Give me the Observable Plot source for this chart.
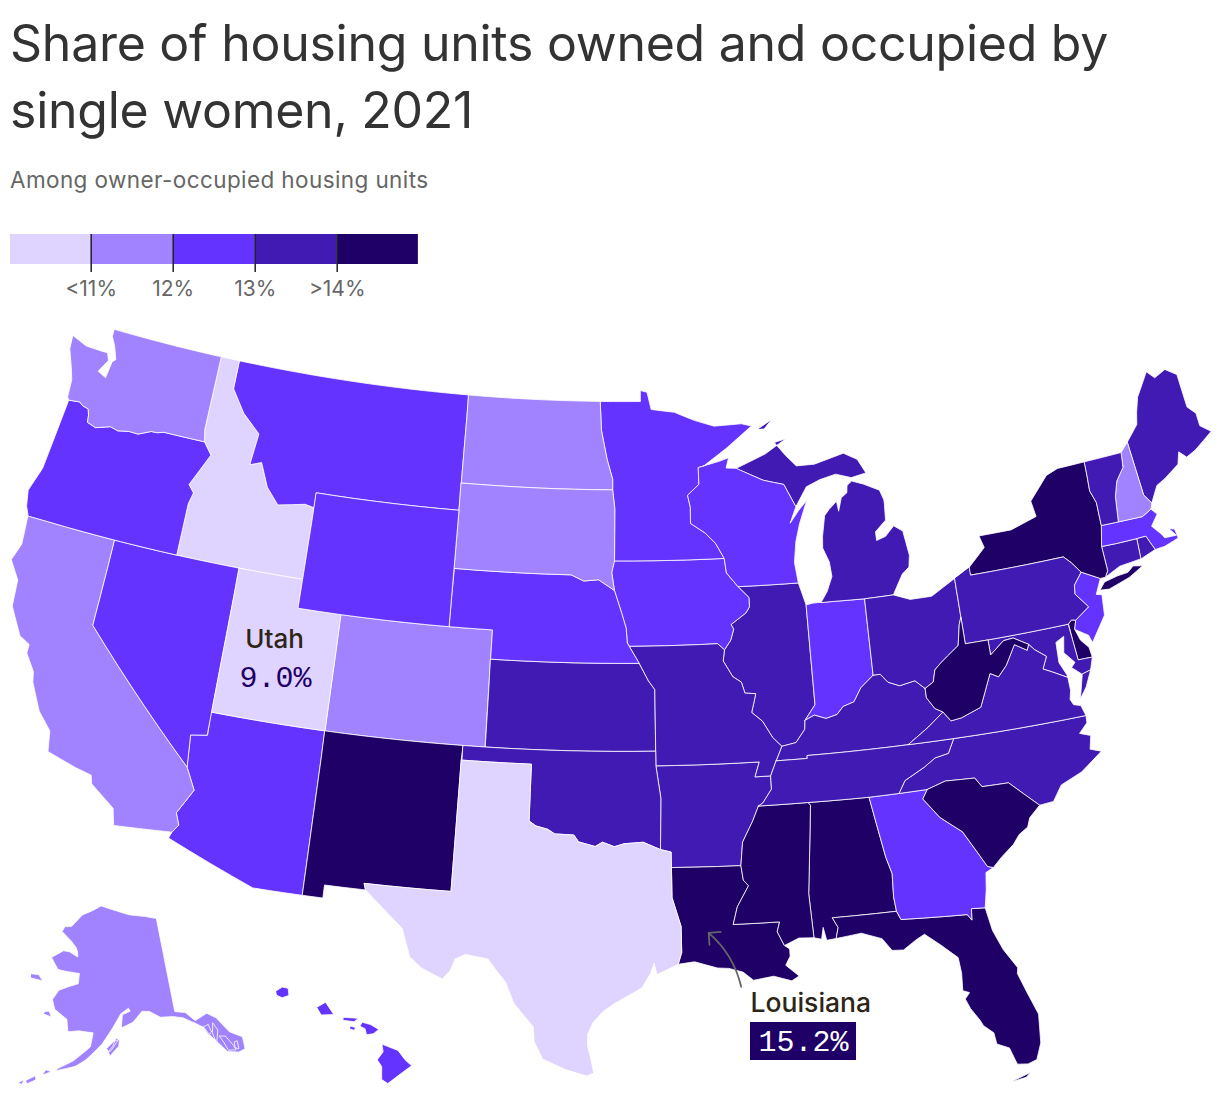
<!DOCTYPE html>
<html><head><meta charset="utf-8">
<script src="https://cdn.jsdelivr.net/npm/d3@7"></script>
<script src="https://cdn.jsdelivr.net/npm/@observablehq/plot@0.6"></script>
<style>
html,body{margin:0;padding:0;background:#fff;width:1220px;height:1094px;overflow:hidden}
#title{position:absolute;left:10px;top:10px;width:1200px;font:400 50px/67px Inter,sans-serif;letter-spacing:-.26px;color:#333;margin:0}
#sub{position:absolute;left:10px;top:166px;font:400 22.5px/28px Inter,sans-serif;letter-spacing:.4px;color:#666}
#legend{position:absolute;left:0;top:234px}
#map{position:absolute;left:0;top:310px}
svg{display:block;overflow:visible}
</style></head><body>
<h1 id="title">Share of housing units owned and occupied by single women, 2021</h1>
<div id="sub">Among owner-occupied housing units</div>
<div id="legend"></div><div id="map"></div>
<script>
// ---- chart values ----
const thresholds = [11, 12, 13, 14];
const tickLabels = ["<11%", "12%", "13%", ">14%"];
const palette = ["#dfd3ff", "#a183ff", "#6533ff", "#4119b3", "#1f0066"];
const legendStarts = [10, 11, 12, 13, 14];
const stateNames = ["AL","AK","AZ","AR","CA","CO","CT","DE","FL","GA","HI","ID","IL","IN","IA","KS","KY","LA","ME","MD","MA","MI","MN","MS","MO","MT","NE","NV","NH","NJ","NM","NY","NC","ND","OH","OK","OR","PA","RI","SC","SD","TN","TX","UT","VT","VA","WA","WV","WI","WY"];
const stateValues = [14.5,11.6,12.5,13.6,11.5,11.6,13.5,14.6,14.4,12.9,12.4,10.2,13.4,12.8,12.3,13.2,13.5,15.2,13.5,13.7,12.7,13.5,12.3,15.0,13.4,12.4,12.5,12.6,11.5,12.8,14.8,14.2,13.6,11.6,13.7,13.5,12.7,13.6,13.7,14.7,11.7,13.5,10.6,9.0,13.3,13.3,11.8,14.6,12.6,12.4];

// ---- shared borders, lon lat ----
const WI_MN="-92.01 46.71,-92.29 46.66,-92.29 46.08,-92.87 45.72,-92.75 45.3,-92.77 44.75,-92.08 44.4,-91.6 44.03,-91.22 43.5";
const WI_IA="-91.22 43.5,-91.15 43,-90.64 42.51";
const IA_IL="-90.64 42.51,-90.16 42.12,-90.16 41.8,-90.34 41.6,-91.06 41.23,-90.95 41.07,-91.11 40.7,-91.42 40.38";
const MO_IL="-91.42 40.38,-91.5 40,-91.1 39.45,-90.73 39.25,-90.6 38.87,-90.12 38.83,-90.2 38.6,-90.35 38.2,-89.9 37.88,-89.5 37.3,-89.13 36.98";
const MO_KY="-89.13 36.98,-89.42 36.5";
const MO_TN="-89.42 36.5,-89.7 36";
const AR_TN="-89.7 36,-89.7 35.55,-90.1 35.1,-90.3 35";
const AR_MS="-90.3 35,-90.58 34.5,-91.05 33.8,-91.17 33";
const LA_MS="-91.17 33,-91.1 32.5,-90.9 32.3,-91.4 31.6,-91.6 31,-89.73 31,-89.85 30.67,-89.6 30.18";
const IL_KY="-89.13 36.98,-88.5 37.07,-88.07 37.5,-88.03 37.8";
const IN_KY="-88.03 37.8,-87.6 37.95,-87.1 37.8,-86.6 37.9,-86.3 38.15,-85.8 38.27,-85.43 38.72,-84.82 39.1";
const OH_KY="-84.82 39.1,-84.5 39.1,-84.2 38.8,-83.7 38.63,-83 38.73,-82.6 38.42";
const OH_WV="-82.6 38.42,-82.2 38.6,-82.05 39,-81.75 39.2,-81.4 39.4,-80.85 39.7,-80.65 40.4,-80.52 40.64";
const KY_WV="-82.6 38.42,-82.6 38.1,-82.3 37.7,-81.97 37.54";
const KY_VA="-83.67 36.6,-82.7 37.1,-81.97 37.54";
const KY_TN="-83.67 36.6,-88.07 36.6,-88.07 36.5,-89.42 36.5";
const TN_VA="-83.67 36.6,-81.68 36.59";
const TN_NC="-81.68 36.59,-82 36.12,-82.6 36.03,-83.1 35.77,-84 35.4,-84.32 34.99";
const TN_S="-84.32 34.99,-85.6 34.98,-88.2 35,-90.3 35";
const NC_VA="-81.68 36.59,-75.87 36.55";
const NC_GA="-84.32 34.99,-83.11 35";
const NC_SC="-83.11 35,-82.3 35.2,-81.05 35.15,-80.8 34.82,-79.67 34.8,-78.55 33.86";
const GA_SC="-83.11 35,-83.35 34.7,-82.75 34,-81.9 33.4,-81.4 32.6,-81.1 32.1,-80.87 32.03";
const GA_AL="-85.6 34.98,-85.18 32.87,-85 32.3,-85.05 31.5,-85 31";
const GA_FL="-85 31,-84.86 30.7,-82.2 30.57,-82.05 30.36,-82 30.75,-81.45 30.71";
const AL_FL="-85 31,-87.6 31,-87.4 30.65,-87.52 30.28";
const AL_MS="-88.2 35,-88.1 34.9,-88.47 31.9,-88.4 30.37";
const VA_WV="-81.97 37.54,-81.68 37.2,-81.2 37.25,-80.3 37.5,-80 38,-79.65 38.58,-79.3 38.42,-78.87 38.76,-78.35 39.4,-77.83 39.13,-77.72 39.32";
const MD_WV="-77.72 39.32,-78.35 39.63,-78.8 39.6,-79.48 39.2,-79.48 39.72";
const MD_VA="-77.72 39.32,-77.5 39.1,-77.04 38.8,-77.3 38.4,-76.95 38.25,-76.3 37.95";
const PA_MD="-79.48 39.72,-75.79 39.72";
const PA_WV="-80.52 40.64,-80.52 39.72,-79.48 39.72";
const OH_PA="-80.52 41.98,-80.52 40.64";
const NY_PA="-79.76 42.27,-79.76 42,-75.35 42,-75.05 41.75,-74.7 41.36";
const NJ_PA="-74.7 41.36,-75.13 40.98,-75.2 40.68,-74.72 40.15,-75.42 39.8";
const DE_N="-75.79 39.72,-75.6 39.84,-75.42 39.8";
const DE_W="-75.79 39.72,-75.69 38.46,-75.05 38.45";
const NJ_NY="-74.7 41.36,-73.9 41";
const NY_CT="-73.5 42.05,-73.49 41.2,-73.66 41";
const NY_MA="-73.28 42.75,-73.5 42.05";
const NY_VT="-73.34 45.01,-73.43 44,-73.25 43.55,-73.28 42.75";
const VT_NH="-71.5 45.01,-71.6 44.5,-72.05 44.1,-72.3 43.6,-72.46 42.73";
const VT_MA="-73.28 42.75,-72.46 42.73";
const NH_MA="-72.46 42.73,-71.3 42.7,-70.82 42.87";
const NH_ME="-71.08 45.3,-70.98 43.4,-70.7 43.07";
const CT_MA="-73.5 42.05,-72.8 42.03,-71.8 42.02";
const RI_MA="-71.8 42.02,-71.38 42.02,-71.12 41.5";
const IN_IL="-87.53 41.72,-87.53 38.3,-88.03 37.8";
const IN_OH="-84.8 41.72,-84.82 39.1";
const NE_IA="-96.45 42.49,-96.1 41.7,-95.9 41.2,-95.85 40.7";
const NE_MO="-95.85 40.7,-95.31 40";
const KS_MO="-95.31 40,-94.9 39.4,-94.62 39.1,-94.62 37";
const OK_TX="-103 36.5,-100 36.5,-100 34.56,-99.7 34.4,-99.2 34.3,-98.9 34.15,-98.1 34.13,-97.9 33.9,-97.2 33.75,-96.9 33.9,-96.4 33.75,-96 33.85,-95.2 33.9,-94.48 33.64";
const TX_LA="-94.04 33.02,-94.04 31.99,-93.7 31,-93.7 30.1,-93.85 29.7";
const AR_OK="-94.62 36.5,-94.43 35.4,-94.48 33.64";
const SD_NE="-96.45 42.49,-97.2 42.85,-97.9 42.8,-98.5 43,-104.05 43";
const ND_MN="-96.56 45.94,-96.56 46.3,-96.85 47,-97.15 48,-97.23 49";
const SD_MN="-96.56 45.94,-96.45 45.3,-96.45 43.5";
const SD_IA="-96.45 43.5,-96.58 43.1,-96.45 42.49";
const ID_MT="-116.05 49,-116.05 48,-115.3 47.25,-114.35 46.65,-114.5 45.55,-113.95 45.7,-113.45 44.9,-112.8 44.37,-111.5 44.55,-111.05 44.48";
const ID_OR="-117.03 42,-117.03 43.8,-116.9 44.2,-117.2 44.45,-116.85 45,-116.47 45.6,-116.92 46";
const OR_WA="-116.92 46,-118.98 46,-119.3 45.93,-119.6 45.92,-120.2 45.72,-120.65 45.73,-121.2 45.65,-121.6 45.72,-122.3 45.55,-122.75 45.65,-122.8 45.9,-122.9 46.1,-123.2 46.15,-123.4 46.25,-123.95 46.2";
const AZ_CA="-114.63 35,-114.15 34.27,-114.7 33.4,-114.5 33,-114.72 32.72";
const AZ_NV="-114.05 36.2,-114.75 36.1,-114.63 35";
const MI_WI="-90.4 46.57,-89.1 46.1,-88.1 45.9,-87.6 45.1";

const parse = s => s.split(",").map(t => t.trim().split(" ").map(Number));
const rev = s => parse(s).reverse();
// Follow parallels and meridians between the listed vertices.
function ring(...parts) {
  const pts = parts.flatMap(p => typeof p === "string" ? parse(p) : p);
  const out = [];
  pts.forEach((a, i) => {
    const b = pts[(i + 1) % pts.length];
    const n = Math.max(1, Math.ceil(Math.hypot(b[0] - a[0], b[1] - a[1])));
    for (let k = 0; k < n; k++) out.push([a[0] + (b[0] - a[0]) * k / n, a[1] + (b[1] - a[1]) * k / n]);
  });
  out.push(out[0]);
  return d3.geoArea({type: "Polygon", coordinates: [out]}) > 2 * Math.PI ? out.reverse() : out;
}

// ---- state outlines ----
const outlines = {
AL:[ring("-88.2 35,-85.6 34.98",GA_AL,AL_FL,"-87.9 30.25,-88 30.7,-88.1 30.3",rev(AL_MS))],
AK:[ring("-141 69.65,-144 70.05,-148.5 70.4,-152 70.85,-156.6 71.35,-159 70.85,-161.9 70.3,-163 69.75,-164.5 69,-166.2 68.88,-166.7 68.35,-164 67.6,-162.5 67,-162 66.6,-161.8 66.1,-164 66.5,-165.5 66.5,-168 65.65,-166 64.6,-164.5 64.55,-161 64.5,-161 63.5,-163 63.1,-165 62.6,-166 61.6,-165.2 60.7,-162.5 59.9,-162 58.7,-160 58.9,-157.2 58.8,-157.6 57.4,-160.5 55.9,-163 55,-163.3 54.75,-160 55.4,-158.3 56.1,-155.5 57.7,-153.5 59.3,-151.8 60.7,-150.2 61.2,-149.9 60.9,-151.5 60.6,-151.8 59.3,-149.5 59.8,-147.5 60.8,-146 60.7,-144 60,-141.5 59.85,-139.7 59.55,-137.5 58.7,-136.2 58.1,-135.6 57.3,-134.5 56.3,-133.4 55.2,-131.6 54.8,-130.4 54.9,-130.1 56.1,-132 57,-133.5 58.7,-135 59.4,-137.5 59,-139 60,-141 60.3"),
  ring("-152.4 58.2,-153.8 57.1,-154.5 56.9,-153.5 57.5,-152.9 58.3"),ring("-154 56.6,-152.4 57.5,-152.2 58.2,-153.3 58.0,-154.6 57.3"),
  ring("-166.2 60.4,-165.6 59.9,-167.3 60.05,-167 60.3"),ring("-171.7 63.6,-170 63.7,-168.8 63.2,-170.3 63.2,-171.5 63.2"),
  ring("-164.9 54.7,-164 54.6,-164.7 54.35,-165.4 54.15"),ring("-167.9 53.3,-166.5 53.95,-166.3 53.55,-167.6 53.0"),ring("-169 52.95,-168.2 53.35,-168.4 52.85"),ring("-173.5 52.25,-172.4 52.4,-172.8 52.1"),
  ring("-134.4 58.3,-133.9 57.5,-134.8 56.3,-135 57.4"),ring("-136.3 58.2,-135.3 58.3,-135.1 57.5,-135.8 57.3"),ring("-133.9 56.9,-132.9 56.7,-132.1 55.6,-131.9 55.1,-133.2 55.3,-133.5 56.1"),ring("-131.7 55.9,-131.2 55.9,-131.4 55.1,-131.9 55.3")],
AZ:[ring("-114.05 37,-109.05 37,-109.05 31.33,-111.07 31.33,-114.81 32.5,-114.72 32.72",rev(AZ_CA),rev(AZ_NV))],
AR:[ring("-94.62 36.5,-90.15 36.5,-90.37 36",AR_TN,AR_MS,"-94.04 33.02,-94.04 33.55",rev(AR_OK))],
CA:[ring("-124.2 42,-120 42,-120 39",AZ_CA,"-117.12 32.53,-117.3 33.1,-118.4 33.75,-118.5 34.03,-119.2 34.15,-120.5 34.45,-120.65 35.15,-121.3 35.7,-121.9 36.6,-122 36.95,-122.5 37.5,-122.5 37.8,-123 38,-123.7 38.9,-123.8 39.8,-124.35 40.4,-124.1 41")],
CO:[ring("-109.05 41,-102.05 41,-102.05 37,-109.05 37")],
CT:[ring(CT_MA,"-71.85 41.32,-72.9 41.25",rev(NY_CT))],
DE:[ring(DE_W,"-75.1 38.8,-75.4 39.1,-75.55 39.5",rev(DE_N))],
FL:[ring(AL_FL,"-86.5 30.38,-85.7 30.12,-85.35 29.68,-84.9 29.65,-84.35 29.95,-84 30.1,-83.4 29.65,-82.8 29.15,-82.75 28.6,-82.8 28,-82.55 27.9,-82.75 27.7,-82.6 27.35,-82.3 26.9,-82.2 26.7,-81.85 26.4,-81.8 26,-81.35 25.8,-81.15 25.2,-80.75 25.15,-80.4 25.25,-80.15 25.8,-80.05 26.8,-80.35 27.6,-80.6 28.3,-80.55 28.5,-81 29.2,-81.3 29.9",rev(GA_FL)),
  ring("-80.7 24.85,-81.5 24.62,-80.9 24.7,-80.35 25.1")],
GA:[ring("-85.6 34.98,-84.32 34.99",NC_GA,GA_SC,"-81.2 31.9,-81.3 31.3",rev(GA_FL),rev(GA_AL))],
HI:[ring("-155.88 20.27,-155.3 20.05,-155.05 19.73,-154.81 19.52,-155.2 19.25,-155.68 18.91,-155.9 19.05,-155.9 19.5,-156.06 19.73,-155.85 20"),ring("-156.69 20.9,-156.6 21.03,-156.3 20.95,-156 20.78,-156.2 20.63,-156.45 20.6,-156.5 20.8"),ring("-157.3 21.2,-156.75 21.17,-156.9 21.05,-157.3 21.1"),ring("-157.05 20.9,-156.85 20.85,-156.9 20.75,-157.05 20.8"),ring("-158.27 21.55,-157.95 21.72,-157.65 21.3,-158.1 21.28"),ring("-159.78 22.1,-159.55 22.24,-159.33 22.2,-159.3 21.95,-159.55 21.87,-159.75 21.95")],
ID:[ring("-117.03 49",ID_MT,"-111.05 42",ID_OR,"-117.04 46.42")],
IL:[ring("-90.64 42.51,-87.8 42.49",IN_IL,rev(IL_KY),rev(MO_IL),rev(IA_IL))],
IN:[ring(rev(IN_IL),"-87.2 41.76,-86.82 41.76",IN_OH,rev(IN_KY))],
IA:[ring("-96.45 43.5",WI_IA,IA_IL,"-91.72 40.6,-95.77 40.58",rev(NE_IA),"-96.58 43.1")],
KS:[ring("-102.05 40",KS_MO,"-102.04 37")],
KY:[ring(IL_KY,IN_KY,OH_KY,KY_WV,rev(KY_VA),KY_TN,rev(MO_KY))],
LA:[ring("-94.04 33.02",LA_MS,"-89.4 30.05,-89.4 29.8,-89.6 29.5,-89.1 29.1,-89.4 28.95,-90.1 29.15,-90.9 29.05,-91.3 29.35,-91.85 29.5,-92.3 29.53,-93.2 29.77",rev(TX_LA))],
ME:[ring("-71.08 45.3,-70.4 45.8,-70.25 46.2,-70 46.7,-69.23 47.46,-68.9 47.18,-68.3 47.36,-67.79 47.07,-67.78 45.9,-67.45 45.6,-67.45 45.15,-67 44.85,-68 44.4,-68.5 44.25,-68.8 44.5,-69 44.1,-69.8 43.75,-70.25 43.6",rev(NH_ME))],
MD:[ring(PA_MD,DE_W,"-75.25 38.03,-75.65 37.95,-76.05 38.25,-75.85 38.4,-76.25 38.8,-76.1 39.35,-76.5 39.2,-76.55 38.5,-76.32 38.05",rev(MD_VA),MD_WV)],
MA:[ring(VT_MA,NH_MA,"-70.6 42.65,-71 42.3,-70.65 41.95,-70.55 41.8,-70 41.78,-70.25 42.07,-70 42,-69.95 41.67,-70.65 41.52",rev(RI_MA),rev(CT_MA),rev(NY_MA))],
MI:[ring("-86.82 41.76,-86.5 42.1,-86.2 42.6,-86.25 43.1,-86.5 43.6,-86.45 44,-86.25 44.7,-86 44.9,-85.6 45.15,-85.55 44.8,-85.35 45.25,-85.05 45.4,-85 45.65,-84.75 45.78,-84.2 45.63,-83.45 45.35,-83.3 45,-83.3 44.85,-83.35 44.3,-83.9 43.95,-83.9 43.65,-83.45 43.75,-83 44.07,-82.6 43.85,-82.45 43,-82.55 42.6,-82.9 42.4,-83.15 42.1,-83.45 41.73,-84.8 41.72"),
  ring(MI_WI,"-87 45.75,-86.3 45.95,-85.5 46.08,-84.75 45.9,-84 46,-84.35 46.5,-85 46.77,-86.5 46.5,-87.4 46.5,-87.9 46.9,-88.4 47.37,-87.8 47.47,-88.9 47"),
  ring("-89.2 47.87,-88.45 48.17,-88.85 47.87")],
MN:[ring("-97.23 49,-95.15 49,-95.15 49.38,-94.8 49.32,-94.6 48.72,-93.4 48.6,-92.4 48.3,-91.4 48.07,-90 48.1,-89.5 48,-90.8 47.3",WI_MN,"-96.45 43.5",rev(SD_MN),ND_MN)],
MS:[ring("-90.3 35,-88.2 35",AL_MS,"-89 30.4",rev(LA_MS),rev(AR_MS))],
MO:[ring("-95.77 40.58,-91.72 40.6",MO_IL,MO_KY,MO_TN,"-90.37 36,-90.15 36.5,-94.62 36.5",rev(KS_MO),"-95.85 40.7")],
MT:[ring(ID_MT,"-111.05 45,-104.05 45,-104.05 49")],
NE:[ring("-104.05 43",rev(SD_NE),NE_IA,NE_MO,"-102.05 40,-102.05 41,-104.05 41")],
NV:[ring("-120 42,-114.05 42",AZ_NV,"-120 39")],
NH:[ring(VT_NH,NH_MA,"-70.7 43.07",rev(NH_ME))],
NJ:[ring(NJ_NY,"-74.25 40.5,-74 40.45,-74.1 39.75,-74.9 38.93,-75 39.2,-75.55 39.5",rev(NJ_PA))],
NM:[ring("-109.05 37,-103 37,-103.04 36.5,-103.06 32,-106.62 32,-106.53 31.78,-108.21 31.78,-108.21 31.33,-109.05 31.33")],
NY:[ring(NY_PA,NJ_NY,rev(NY_CT),rev(NY_MA),rev(NY_VT),"-74.7 45,-75.3 44.85,-76.3 44.1,-76.2 43.55,-77.5 43.27,-79.05 43.27,-78.9 42.85"),
  ring("-74.03 40.62,-73.75 40.85,-73.1 40.95,-72.6 40.98,-72.3 41.15,-71.87 41.07,-72.6 40.8,-73.6 40.58")],
NC:[ring(NC_VA,"-75.9 36.3,-76.3 36,-75.85 35.85,-76 35.4,-75.55 35.25,-76.55 34.7,-77.5 34.4,-77.95 33.9",rev(NC_SC),rev(NC_GA),rev(TN_NC))],
ND:[ring("-104.05 49",rev(ND_MN),"-104.05 45.94")],
OH:[ring(rev(IN_OH),"-83.45 41.73,-82.7 41.5,-81.7 41.5",OH_PA,rev(OH_WV),rev(OH_KY))],
OK:[ring("-103 37,-94.62 37",AR_OK,rev(OK_TX))],
OR:[ring("-124.2 42",ID_OR,OR_WA,"-124.1 44.7,-124.2 43.7,-124.55 42.84,-124.4 42.3")],
PA:[ring(NY_PA,NJ_PA,rev(DE_N),rev(PA_MD),rev(PA_WV),rev(OH_PA))],
RI:[ring(RI_MA,"-71.85 41.32")],
SC:[ring(NC_SC,"-79.05 33.5,-79.2 33.2,-79.6 33,-79.9 32.7,-80.45 32.35",rev(GA_SC))],
SD:[ring("-104.05 45.94",SD_MN,SD_IA,SD_NE)],
TN:[ring(rev(KY_TN),TN_VA,TN_NC,TN_S,rev(AR_TN),rev(MO_TN))],
TX:[ring(OK_TX,"-94.04 33.55",TX_LA,"-94.7 29.35,-94.8 29.75,-94.95 29.4,-95.3 28.9,-96.4 28.35,-96.8 28.1,-97.2 27.7,-97.4 27.3,-97.4 26.9,-97.25 26.4,-97.15 25.96,-97.4 25.85,-98.2 26.05,-99.1 26.4,-99.45 27,-99.5 27.5,-100.3 28.3,-100.65 29,-101.05 29.4,-101.4 29.77,-102.3 29.88,-102.7 29.7,-102.85 29.3,-103.15 28.98,-104 29.3,-104.5 29.65,-104.9 30.6,-106 31.4,-106.53 31.78,-106.62 32,-103.06 32,-103.04 36.5")],
UT:[ring("-114.05 42,-111.05 42,-111.05 41,-109.05 41,-109.05 37,-114.05 37")],
VT:[ring(NY_VT,VT_MA,rev(VT_NH))],
VA:[ring(VA_WV,MD_VA,"-76.3 37.5,-76.4 37.2,-76.3 37,-76 36.92,-75.87 36.55",rev(NC_VA),rev(TN_VA),KY_VA),ring("-75.25 38.03,-75.65 37.95,-75.95 37.15,-75.6 37.5")],
WA:[ring("-124.7 48.38,-123.9 48.17,-123.1 48.15,-122.75 48.15,-122.6 47.9,-122.95 47.45,-122.5 47.3,-122.4 47.9,-122.25 48,-122.5 48.45,-122.75 48.75,-122.76 49,-117.03 49,-117.04 46.42",OR_WA,"-124.05 46.3,-124.1 46.9,-124.3 47.3,-124.65 47.9")],
WV:[ring(OH_WV,PA_WV,rev(MD_WV),rev(VA_WV),rev(KY_WV))],
WI:[ring("-92.01 46.71,-91.2 46.85,-90.75 46.95,-90.9 46.6",MI_WI,"-87.95 44.55,-87.5 44.95,-87.05 45.28,-87.5 44.5,-87.75 43.9,-87.9 43.2,-87.8 42.49",rev(WI_IA),rev(WI_MN))],
WY:[ring("-111.05 45,-104.05 45,-104.05 41,-111.05 41")]
};

const states = {type: "FeatureCollection", features: stateNames.map((id, i) => ({
  type: "Feature", id, properties: {value: stateValues[i]},
  geometry: {type: "MultiPolygon", coordinates: outlines[id].map(r => [r])}
}))};

// ---- legend ----
document.getElementById("legend").append(Plot.plot({
  width: 428, height: 66, marginLeft: 8.7, marginRight: 9.3, marginTop: 0, marginBottom: 28,
  x: {domain: [10, 15], axis: null}, y: {domain: [-0.267, 1], axis: null},
  marks: [
    Plot.rect(legendStarts, {x1: d => Math.max(d, 10.016), x2: d => Math.min(d + 1, 14.99), y1: 0, y2: 1, fill: d => palette[d - 10]}),
    Plot.ruleX(thresholds, {y1: -0.267, y2: 1, stroke: "#222", strokeWidth: 1.5}),
    Plot.text(thresholds, {x: d => d, frameAnchor: "bottom", dy: 23, text: (d, i) => tickLabels[i], fontSize: 21, fill: "#666", fontFamily: "Inter, sans-serif"})
  ],
  style: {background: "transparent"}
}));

// ---- map ----
const projection = d3.geoAlbersUsa().scale(1665).translate([610, 391]);
const labelFont = "Inter, sans-serif", monoFont = "'Liberation Mono', monospace";
document.getElementById("map").append(Plot.plot({
  width: 1220, height: 784, margin: 0, projection,
  color: {type: "threshold", domain: thresholds, range: palette},
  marks: [
    Plot.geo(states, {fill: d => d.properties.value, stroke: "#fff", strokeWidth: 0.8, strokeLinejoin: "round"}),
    Plot.arrow([{x1: -91.4, y1: 28.85, x2: -92.6, y2: 30.75}], {x1: "x1", y1: "y1", x2: "x2", y2: "y2", bend: -18, stroke: "#666", strokeWidth: 1.8, headLength: 10, headAngle: 90}),
    () => {
      const r = document.createElementNS("http://www.w3.org/2000/svg", "rect");
      r.setAttribute("x", 750); r.setAttribute("y", 712); r.setAttribute("width", 106); r.setAttribute("height", 38); r.setAttribute("fill", "#1f0066");
      return r;
    },
    Plot.text(["Utah"], {frameAnchor: "top-left", lineAnchor: "middle", dx: 274, dy: 329, textAnchor: "middle", fontSize: 26, fontWeight: 500, fill: "#2d2518", fontFamily: labelFont}),
    Plot.text(["9.0%"], {frameAnchor: "top-left", lineAnchor: "middle", dx: 275, dy: 367, textAnchor: "middle", fontSize: 30, fill: "#1f0066", fontFamily: monoFont}),
    Plot.text(["Louisiana"], {frameAnchor: "top-left", lineAnchor: "middle", dx: 750, dy: 693, textAnchor: "start", fontSize: 26.5, fontWeight: 500, fill: "#2d2518", fontFamily: labelFont}),
    Plot.text(["15.2%"], {frameAnchor: "top-left", lineAnchor: "middle", dx: 803, dy: 731, textAnchor: "middle", fontSize: 30, fill: "#fff", fontFamily: monoFont})
  ]
}));
</script></body></html>
